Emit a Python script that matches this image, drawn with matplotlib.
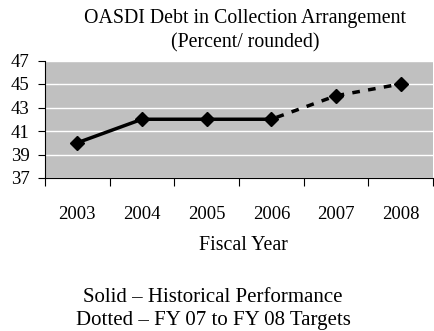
import matplotlib
matplotlib.use("Agg")
import matplotlib.pyplot as plt

years = ["2003", "2004", "2005", "2006", "2007", "2008"]
historical = [40, 42, 42, 42]
targets = [42, 44, 45]
yticks = [37, 39, 41, 43, 45, 47]

plt.rcParams['font.family'] = ['Liberation Serif', 'DejaVu Serif']

fig = plt.figure(figsize=(4.34, 3.31), dpi=100)
W, H = 434, 331
ax = fig.add_axes([45 / W, 1 - 178 / H, (433 - 45) / W, (178 - 60.5) / H])
ax.set_facecolor('#C0C0C0')

x = list(range(len(years)))
hx = x[:len(historical)]
tx = x[len(historical) - 1:]
ax.plot(tx, targets, color='black', lw=2.5, ls=(3, (2.2, 2.4)), zorder=3)
ax.plot(hx, historical, color='black', lw=2.5, zorder=4)
ax.plot(x, historical + targets[1:], ls='none', marker='D', ms=7, color='black', zorder=5)

ax.set_ylim(37, 47)
ax.set_xlim(-0.5, len(years) - 0.5)
ax.set_yticks(yticks)
ax.set_yticklabels([str(v) for v in yticks], fontsize=13.5)
ax.yaxis.grid(True, color='white', lw=1)
ax.set_axisbelow(True)
ax.set_xticks([i - 0.5 for i in range(len(years) + 1)])
ax.set_xticklabels([])
ax.set_xticks(x, minor=True)
ax.set_xticklabels(years, minor=True, fontsize=13.5)
ax.tick_params(axis='x', which='minor', length=0, pad=20)
ax.tick_params(axis='x', which='major', length=6, direction='out')
ax.tick_params(axis='y', length=5, direction='out', pad=6)
for s in ['top', 'right']:
    ax.spines[s].set_visible(False)
ax.spines['left'].set_color('black')
ax.spines['bottom'].set_color('black')

fig.text(245 / W, 1 - 18 / H, "OASDI Debt in Collection Arrangement", ha='center', va='center', fontsize=14.3)
fig.text(245 / W, 1 - 43 / H, "(Percent/ rounded)", ha='center', va='center', fontsize=14.3)
fig.text(243 / W, 1 - 245 / H, "Fiscal Year", ha='center', va='center', fontsize=14.3)
fig.text(213 / W, 1 - 297 / H, "Solid \u2013 Historical Performance", ha='center', va='center', fontsize=15)
fig.text(213 / W, 1 - 320 / H, "Dotted \u2013 FY 07 to FY 08 Targets", ha='center', va='center', fontsize=15)

fig.savefig("out.png", dpi=100)
